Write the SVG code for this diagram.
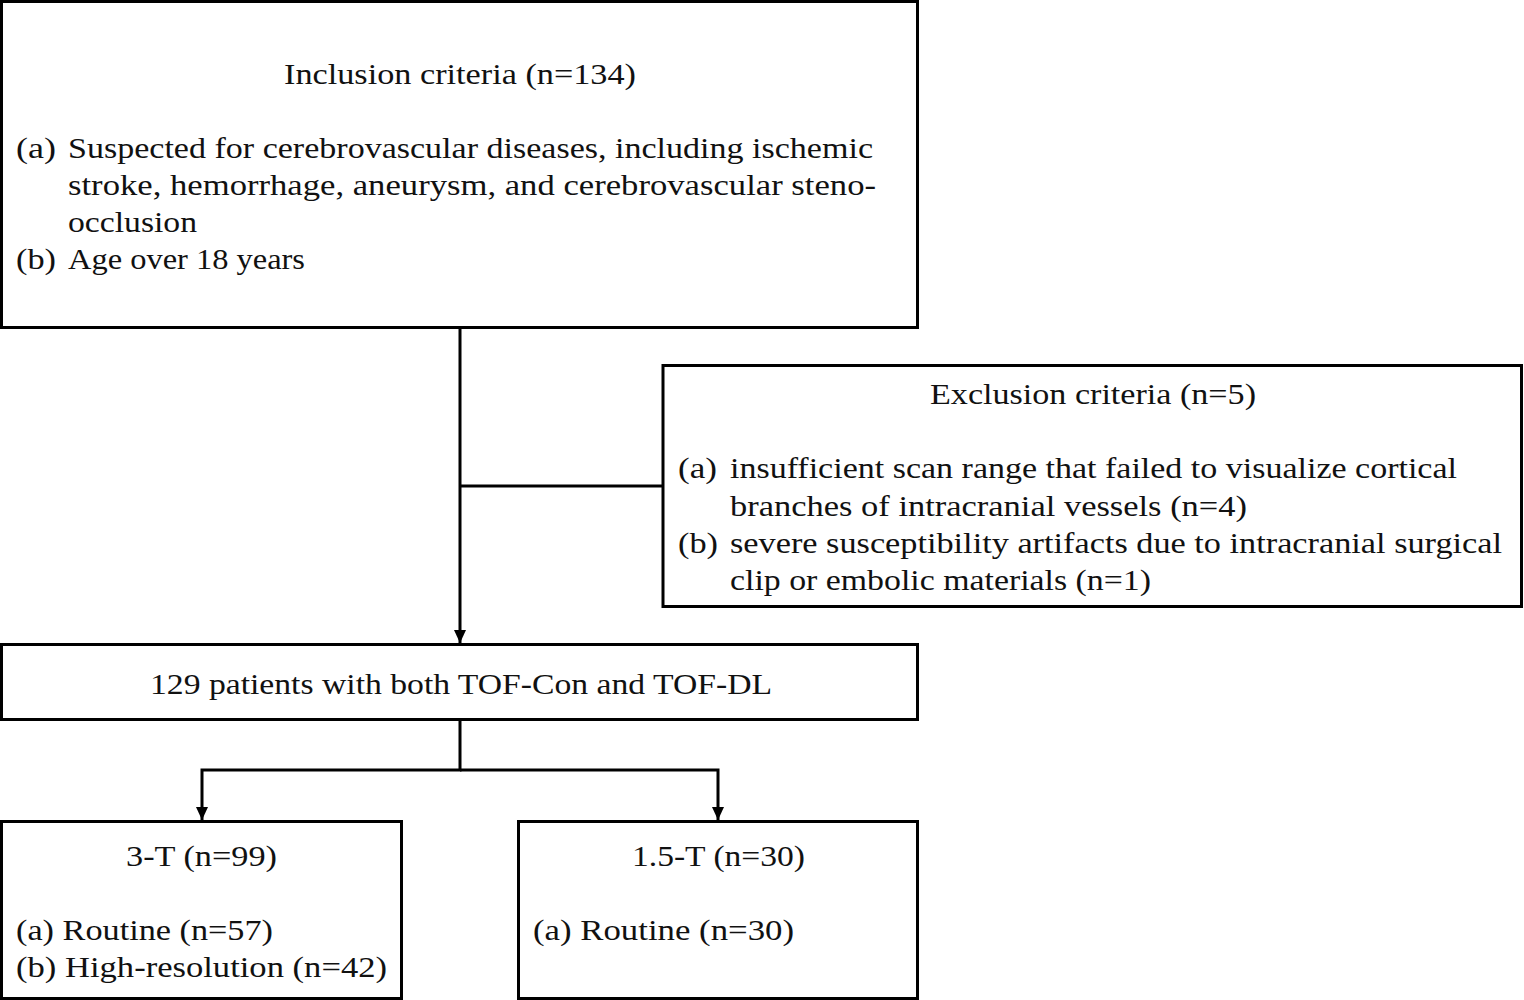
<svg xmlns="http://www.w3.org/2000/svg" width="1524" height="1000" viewBox="0 0 1524 1000">
<style>
.box{fill:#fff;stroke:#000;stroke-width:3}
.ln{fill:none;stroke:#000;stroke-width:3}
text{font-family:"Liberation Serif","DejaVu Serif",serif;font-size:30px;fill:#111}
</style>
<defs>
<marker id="arr" markerWidth="12" markerHeight="13" refX="6" refY="13" orient="0" markerUnits="userSpaceOnUse" viewBox="0 0 12 13">
<path d="M0,0 L12,0 L6,13 Z" fill="#000"/>
</marker>
</defs>
<rect width="1524" height="1000" fill="#fff"/>
<g id="connectors">
<line class="ln" x1="460" y1="328" x2="460" y2="643" marker-end="url(#arr)"/>
<line class="ln" x1="460" y1="486" x2="663" y2="486"/>
<polyline class="ln" points="460,720 460,770 202,770 202,820" marker-end="url(#arr)"/>
<polyline class="ln" points="460,770 718,770 718,820" marker-end="url(#arr)"/>
</g>
<g id="inclusion">
<rect class="box" x="1.5" y="1.5" width="916" height="326"/>
<text x="284" y="84" textLength="352" lengthAdjust="spacingAndGlyphs">Inclusion criteria (n=134)</text>
<text x="16" y="158" textLength="40" lengthAdjust="spacingAndGlyphs">(a)</text>
<text x="68" y="158" textLength="805" lengthAdjust="spacingAndGlyphs">Suspected for cerebrovascular diseases, including ischemic</text>
<text x="68" y="195" textLength="808" lengthAdjust="spacingAndGlyphs">stroke, hemorrhage, aneurysm, and cerebrovascular steno-</text>
<text x="68" y="232" textLength="129" lengthAdjust="spacingAndGlyphs">occlusion</text>
<text x="16" y="269" textLength="40" lengthAdjust="spacingAndGlyphs">(b)</text>
<text x="68" y="269" textLength="237" lengthAdjust="spacingAndGlyphs">Age over 18 years</text>
</g>
<g id="exclusion">
<rect class="box" x="663" y="365.5" width="858.5" height="241"/>
<text x="930" y="404" textLength="326" lengthAdjust="spacingAndGlyphs">Exclusion criteria (n=5)</text>
<text x="678" y="478" textLength="39" lengthAdjust="spacingAndGlyphs">(a)</text>
<text x="730" y="478" textLength="727" lengthAdjust="spacingAndGlyphs">insufficient scan range that failed to visualize cortical</text>
<text x="730" y="516" textLength="517" lengthAdjust="spacingAndGlyphs">branches of intracranial vessels (n=4)</text>
<text x="678" y="553" textLength="40" lengthAdjust="spacingAndGlyphs">(b)</text>
<text x="730" y="553" textLength="772" lengthAdjust="spacingAndGlyphs">severe susceptibility artifacts due to intracranial surgical</text>
<text x="730" y="590" textLength="421" lengthAdjust="spacingAndGlyphs">clip or embolic materials (n=1)</text>
</g>
<g id="patients">
<rect class="box" x="1.5" y="644.5" width="916" height="75"/>
<text x="150" y="694" textLength="622" lengthAdjust="spacingAndGlyphs">129 patients with both TOF-Con and TOF-DL</text>
</g>
<g id="t3">
<rect class="box" x="1.5" y="821.5" width="400" height="177"/>
<text x="126" y="866" textLength="151" lengthAdjust="spacingAndGlyphs">3-T (n=99)</text>
<text x="16" y="940" textLength="257" lengthAdjust="spacingAndGlyphs">(a) Routine (n=57)</text>
<text x="16" y="977" textLength="371" lengthAdjust="spacingAndGlyphs">(b) High-resolution (n=42)</text>
</g>
<g id="t15">
<rect class="box" x="518.5" y="821.5" width="399" height="177"/>
<text x="632" y="866" textLength="173" lengthAdjust="spacingAndGlyphs">1.5-T (n=30)</text>
<text x="533" y="940" textLength="261" lengthAdjust="spacingAndGlyphs">(a) Routine (n=30)</text>
</g>
</svg>
